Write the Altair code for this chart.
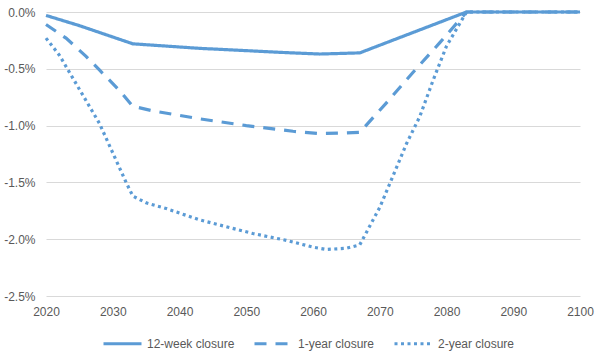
import altair as alt
import pandas as pd

series = ["12-week closure", "1-year closure", "2-year closure"]

years_12w = [2020, 2025, 2030, 2033, 2038, 2043, 2050, 2055, 2061, 2067, 2075, 2083, 2090, 2100]
vals_12w = [-0.03, -0.12, -0.22, -0.28, -0.30, -0.32, -0.34, -0.355, -0.37, -0.36, -0.18, 0.0, 0.0, 0.0]

years_1y = [2020, 2023, 2026, 2028, 2031, 2033, 2036, 2043, 2050, 2057, 2061, 2065, 2067, 2071, 2075, 2079, 2083, 2090, 2100]
vals_1y = [-0.11, -0.23, -0.39, -0.51, -0.69, -0.83, -0.87, -0.94, -1.00, -1.05, -1.07, -1.065, -1.06, -0.80, -0.53, -0.27, 0.0, 0.0, 0.0]

years_2y = [2020, 2022, 2025, 2028, 2030, 2032, 2033, 2035, 2038, 2043, 2051, 2056, 2060, 2062, 2065, 2067, 2068, 2070, 2072, 2074, 2076, 2078, 2080, 2083, 2090, 2100]
vals_2y = [-0.23, -0.38, -0.68, -0.98, -1.24, -1.50, -1.62, -1.68, -1.73, -1.83, -1.95, -2.01, -2.07, -2.09, -2.08, -2.05, -1.94, -1.72, -1.44, -1.16, -0.92, -0.60, -0.30, 0.0, 0.0, 0.0]

x_ticks = [2020, 2030, 2040, 2050, 2060, 2070, 2080, 2090, 2100]
y_ticks = [0.0, -0.5, -1.0, -1.5, -2.0, -2.5]

rows = []
for name, ys, vs in zip(series, [years_12w, years_1y, years_2y], [vals_12w, vals_1y, vals_2y]):
    for y, v in zip(ys, vs):
        rows.append({"series": name, "year": y, "value": v})
df = pd.DataFrame(rows)

blue = "#5B9BD5"
font = "Liberation Sans"
text_color = "#595959"

chart = alt.Chart(df).mark_line(strokeWidth=3.2, color=blue).encode(
    x=alt.X(
        "year:Q",
        scale=alt.Scale(domain=[2020, 2100], nice=False, zero=False),
        axis=alt.Axis(values=x_ticks, format="d", title=None, grid=False, domain=False,
                      ticks=False, labelPadding=10, labelFont=font, labelFontSize=12,
                      labelColor=text_color, labelFlush=False, labelOverlap=False),
    ),
    y=alt.Y(
        "value:Q",
        scale=alt.Scale(domain=[-2.5, 0], nice=False, zero=False),
        axis=alt.Axis(values=y_ticks, title=None, grid=True, gridColor="#D9D9D9", gridWidth=1,
                      domain=False, ticks=False, labelPadding=11, labelFont=font,
                      labelFontSize=12, labelColor=text_color,
                      labelExpr="(datum.value < 0 ? '-' : '') + format(abs(datum.value) / 100, '.1%')"),
    ),
    strokeDash=alt.StrokeDash(
        "series:N",
        scale=alt.Scale(domain=series, range=[[1, 0], [12, 9], [3, 3.5]]),
        legend=alt.Legend(
            title=None, orient="none", direction="horizontal", legendX=56, legendY=311,
            symbolType="stroke", symbolSize=1444, symbolStrokeWidth=3,
            symbolStrokeColor=blue, labelFont=font, labelFontSize=12, labelColor=text_color,
            labelOffset=4, columnPadding=13,
        ),
    ),
).properties(
    width=534,
    height=284,
    autosize=alt.AutoSizeParams(type="none"),
    padding={"left": 46, "top": 12, "right": 20, "bottom": 55},
).configure_view(stroke=None)

chart.save("out.html", embed_options={"renderer": "svg", "actions": False})
